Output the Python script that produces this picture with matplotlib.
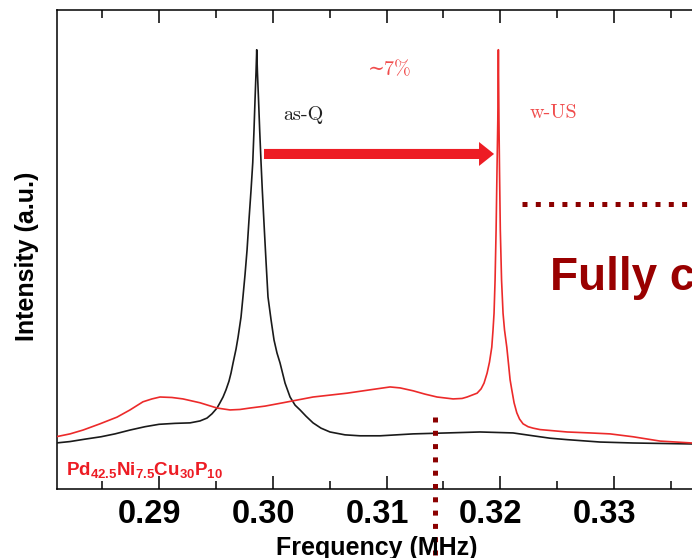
import matplotlib
matplotlib.use("Agg")
import matplotlib.pyplot as plt
from matplotlib.patches import FancyArrow
from matplotlib.transforms import ScaledTranslation

plt.rcParams['font.family'] = ['Liberation Sans', 'DejaVu Sans']
plt.rcParams['mathtext.fontset'] = 'custom'
plt.rcParams['mathtext.rm'] = 'Liberation Sans:bold'
plt.rcParams['mathtext.it'] = 'Liberation Sans:bold'
plt.rcParams['mathtext.bf'] = 'Liberation Sans:bold'

# Resonance spectra (frequency in MHz, intensity in arbitrary units)
freq_asq = [0.28095, 0.28218, 0.28349, 0.28490, 0.28613, 0.28745, 0.28877, 0.29000,
            0.29141, 0.29273, 0.29360, 0.29422, 0.29466, 0.29510, 0.29536, 0.29563,
            0.29589, 0.29615, 0.29633, 0.29651, 0.29677, 0.29695, 0.29721, 0.29738,
            0.29756, 0.29774, 0.29791, 0.29809, 0.29824, 0.29835, 0.29844, 0.29853,
            0.29859, 0.29865, 0.29875, 0.29885, 0.29897, 0.29908, 0.29926, 0.29941,
            0.29958, 0.29985, 0.30011, 0.30037, 0.30064, 0.30108, 0.30152, 0.30196,
            0.30240, 0.30292, 0.30354, 0.30424, 0.30503, 0.30635, 0.30767, 0.30943,
            0.31233, 0.31532, 0.31822, 0.32112, 0.32288, 0.32437, 0.32587, 0.32877,
            0.33167, 0.33686, 0.34000]
int_asq = [0.096, 0.099, 0.104, 0.109, 0.115, 0.123, 0.130, 0.135,
           0.137, 0.138, 0.142, 0.148, 0.157, 0.169, 0.180, 0.192,
           0.207, 0.225, 0.242, 0.263, 0.292, 0.317, 0.359, 0.401,
           0.447, 0.499, 0.562, 0.624, 0.681, 0.749, 0.812, 0.871,
           0.917, 0.871, 0.812, 0.749, 0.681, 0.624, 0.541, 0.474,
           0.401, 0.353, 0.311, 0.284, 0.263, 0.221, 0.192, 0.175,
           0.165, 0.152, 0.138, 0.127, 0.119, 0.113, 0.111, 0.111,
           0.115, 0.117, 0.119, 0.117, 0.111, 0.106, 0.103, 0.098,
           0.096, 0.094, 0.094]

freq_wus = [0.28095, 0.28218, 0.28332, 0.28481, 0.28631, 0.28745, 0.28859, 0.28938,
            0.29009, 0.29114, 0.29211, 0.29360, 0.29510, 0.29624, 0.29712, 0.29800,
            0.29932, 0.30090, 0.30354, 0.30653, 0.30855, 0.31031, 0.31119, 0.31233,
            0.31338, 0.31444, 0.31585, 0.31664, 0.31708, 0.31752, 0.31796, 0.31831,
            0.31857, 0.31884, 0.31905, 0.31925, 0.31936, 0.31945, 0.31954, 0.31963,
            0.31971, 0.31978, 0.31983, 0.31988, 0.31993, 0.32000, 0.32011, 0.32024,
            0.32037, 0.32057, 0.32073, 0.32086, 0.32101, 0.32121, 0.32145, 0.32169,
            0.32200, 0.32244, 0.32288, 0.32349, 0.32587, 0.32789, 0.32965, 0.33167,
            0.33404, 0.33686, 0.34000]
int_wus = [0.109, 0.115, 0.123, 0.136, 0.150, 0.165, 0.182, 0.188,
           0.192, 0.191, 0.188, 0.180, 0.169, 0.165, 0.166, 0.169,
           0.173, 0.180, 0.192, 0.200, 0.207, 0.213, 0.211, 0.205,
           0.198, 0.192, 0.188, 0.189, 0.192, 0.196, 0.200, 0.209,
           0.221, 0.242, 0.265, 0.296, 0.332, 0.367, 0.436, 0.541,
           0.666, 0.770, 0.917, 0.770, 0.666, 0.541, 0.436, 0.367,
           0.332, 0.296, 0.259, 0.228, 0.207, 0.180, 0.159, 0.146,
           0.136, 0.130, 0.127, 0.124, 0.119, 0.117, 0.115, 0.109,
           0.100, 0.096, 0.095]

major_ticks = [0.29, 0.30, 0.31, 0.32, 0.33]
minor_ticks = [0.285, 0.295, 0.305, 0.315, 0.325, 0.335]
tick_labels = ['0.29', '0.30', '0.31', '0.32', '0.33']

fig = plt.figure(figsize=(6.92, 5.58), dpi=100)
ax = fig.add_axes([0.0818, 0.1237, 0.970, 0.8584])
ax.set_xlim(0.281, 0.340)
ax.set_ylim(0, 1)

ax.plot(freq_asq, int_asq, color='#1a1a1a', lw=1.2, zorder=3)
ax.plot(freq_wus, int_wus, color='#EC2A2A', lw=1.2, zorder=3)

# Shift arrow between the two resonance peaks
ax.add_patch(FancyArrow(0.29923, 0.6994, 0.31945 - 0.29923, 0, width=0.021,
                        head_width=0.050, head_length=0.00132,
                        length_includes_head=True, color='#ED1C24', lw=0, zorder=4))

serif = ['cmr10', 'DejaVu Serif']
ax.text(0.30266, 0.781, 'as-Q', family=serif, fontsize=14.5, color='#222222',
        ha='center', va='center')
ax.text(0.32464, 0.785, 'w-US', family=serif, fontsize=14.5, color='#F04C4C',
        ha='center', va='center')
ax.text(0.31031, 0.875, '\u223c7%', family=serif, fontsize=14.5, color='#F04C4C',
        ha='center', va='center')

ax.text(0.2818, 0.029, r'$\mathrm{Pd_{42.5}Ni_{7.5}Cu_{30}P_{10}}$', fontsize=13.5,
        color='#ED1C24', ha='left', va='baseline')

# Reference markers for the fully crystallized state
dot_style = dict(color='#8B0000', lw=3.6, linestyle=(0, (1, 1.66)),
                 dash_capstyle='butt', zorder=5)
ax.plot([0.32191, 0.3450], [0.595, 0.595], **dot_style)
ax.plot([0.31426, 0.31426], [0.150, -0.16], clip_on=False, **dot_style)
fig.text(550 / 692, 1 - 290 / 558, 'Fully crystallized', fontsize=33,
         fontweight='bold', color='#990000', ha='left', va='baseline')

ax.set_xticks(major_ticks)
ax.set_xticklabels(tick_labels, fontsize=23.5, fontweight='bold')
ax.set_xticks(minor_ticks, minor=True)
ax.set_yticks([])
ax.tick_params(axis='x', which='both', direction='in', top=True, width=1.1, pad=7)
ax.tick_params(axis='x', which='major', length=9.4)
ax.tick_params(axis='x', which='minor', length=5.5)
shift = ScaledTranslation(-9.5 / 100, 0, fig.dpi_scale_trans)
for lbl in ax.get_xticklabels():
    lbl.set_transform(lbl.get_transform() + shift)
for s in ax.spines.values():
    s.set_linewidth(1.1)

fig.text(377 / 692, 1 - 555 / 558, 'Frequency (MHz)', fontsize=18, fontweight='bold',
         ha='center', va='baseline')
fig.text(26.6 / 692, 1 - 256 / 558, 'Intensity (a.u.)', fontsize=18, fontweight='bold',
         rotation=90, ha='center', va='center')

fig.savefig('out.png', dpi=100)
